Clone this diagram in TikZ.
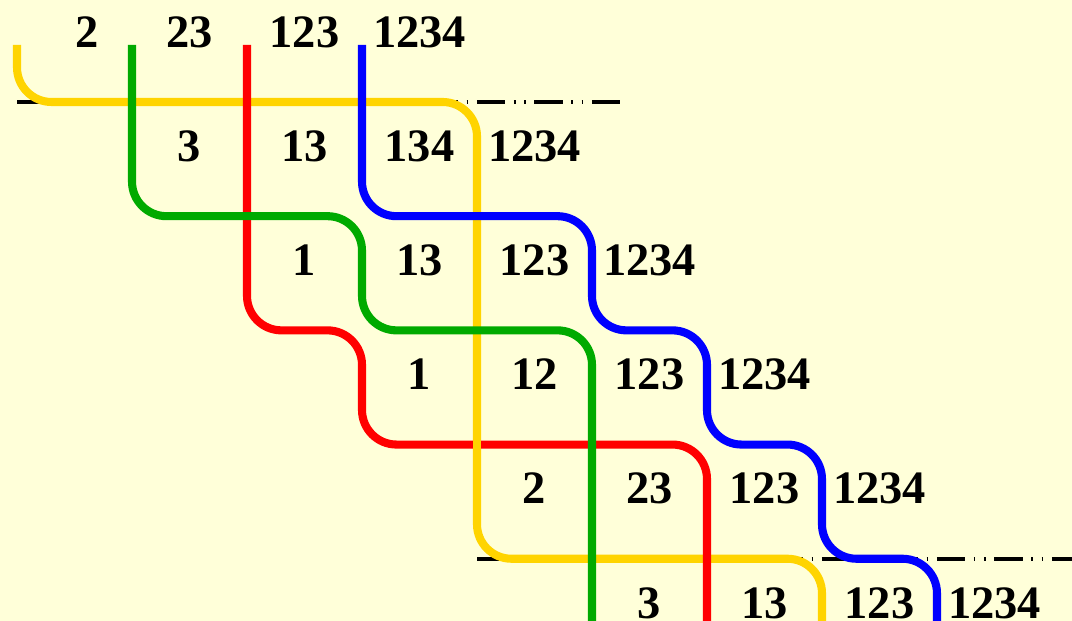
\documentclass[tikz,border=0pt]{standalone}
\usepackage{fontspec}
\setmainfont{Liberation Serif}
\usetikzlibrary{calc}
\definecolor{BgClr}{RGB}{255,255,217}
\definecolor{YelClr}{RGB}{255,212,0}
\definecolor{GrnClr}{RGB}{0,170,0}
\definecolor{RedClr}{RGB}{255,0,0}
\definecolor{BluClr}{RGB}{0,0,255}
\tikzset{
  wire/.style={line width=2pt,rounded corners=0.3cm},
  cutline/.style={line width=1pt,black,
    dash pattern=on 0.245cm off 0.075cm on 0.015cm off 0.075cm on 0.015cm off 0.075cm},
  lbl/.style={anchor=base,inner sep=0pt,font=\fontsize{11.5}{14}\selectfont\bfseries}
}

\begin{document}
\begin{tikzpicture}[x=1cm,y=-0.993cm]
\fill[BgClr] (0,0) rectangle (9.322,5.438);
\useasboundingbox (0,0) rectangle (9.322,5.438);

% grid points: P<column><level>, tops T, bottoms B
\foreach \i in {0,...,8}{
  \coordinate (T\i) at (0.148+\i,0.394);
  \coordinate (B\i) at (0.148+\i,5.5);
  \foreach \k in {0,...,4}
    \coordinate (P\i\k) at (0.148+\i,0.893+\k);
}

\draw[cutline] (P00) -- (5.393,0.893);
\draw[cutline] (P44) -- (9.322,4.893);

\draw[wire,YelClr] (T0) -- (P00) -- (P40) -- (P44) -- (P74) -- (B7);
\draw[wire,RedClr] (T2) -- (P22) -- (P32) -- (P33) -- (P63) -- (B6);
\draw[wire,YelClr] ($(P43)+(0,-0.3)$) -- ($(P43)+(0,0.3)$);
\draw[wire,GrnClr] (T1) -- (P11) -- (P31) -- (P32) -- (P52) -- (B5);
\draw[wire,BluClr] (T3) -- (P31) -- (P51) -- (P52) -- (P62) -- (P63) -- (P73) -- (P74) -- (P84) -- (B8);

\foreach \r/\s/\a/\b/\c/\d in {0/0.11/2/23/123/1234, 1/0/3/13/134/1234,
    2/0/1/13/123/1234, 3/0/1/12/123/1234, 4/0/2/23/123/1234, 5/0/3/13/123/1234}{
  \node[lbl] (a\r) at (0.648+\r+\s,0.412+\r) {\a};
  \node[lbl] (b\r) at (1.648+\r,0.412+\r) {\b};
  \node[lbl] (c\r) at (2.648+\r,0.412+\r) {\c};
  \node[lbl] (d\r) at (3.648+\r,0.412+\r) {\d};
}

\end{tikzpicture}
\end{document}
